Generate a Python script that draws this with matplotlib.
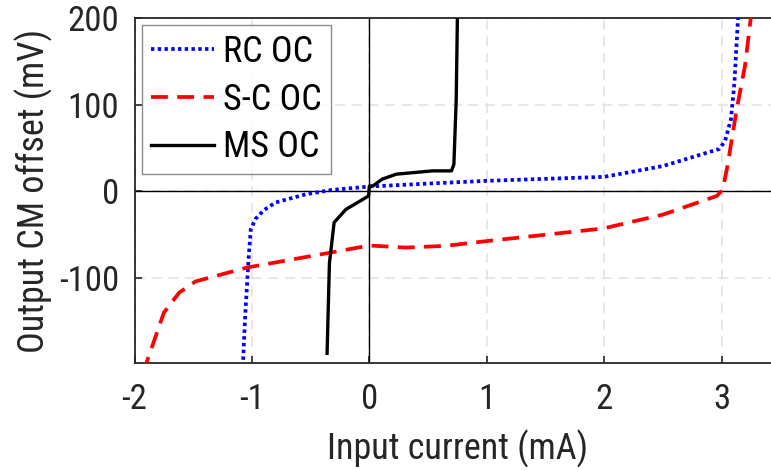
import matplotlib
matplotlib.use("Agg")
import matplotlib.pyplot as plt

FONTS = ['Roboto Condensed', 'Archivo Narrow', 'Liberation Sans', 'DejaVu Sans']
plt.rcParams['font.family'] = FONTS

rc_x = [-1.08, -1.06, -1.03, -1.01, -0.97, -0.90, -0.80, -0.54, -0.32, 0.0, 0.51, 1.0, 2.0, 2.5, 2.98, 3.03, 3.08, 3.11, 3.14, 3.16]
rc_y = [-210, -150, -80, -44, -32, -22, -13, -3.5, 1.5, 5.4, 8.9, 12, 16.6, 29, 48.7, 58, 83, 126, 199, 215]

sc_x = [-1.92, -1.90, -1.75, -1.62, -1.48, -1.04, -0.34, 0.0, 0.31, 0.65, 1.0, 1.99, 2.5, 2.96, 3.01, 3.05, 3.13, 3.20, 3.25, 3.26]
sc_y = [-210, -198.5, -140, -117, -104, -88, -71, -62.6, -65, -63, -57.5, -43, -27, -5.4, 2, 29, 95, 145, 201, 215]

ms_x = [-0.36, -0.34, -0.30, -0.20, -0.10, -0.006, 0.0, 0.03, 0.11, 0.23, 0.54, 0.70, 0.72, 0.74, 0.75, 0.751]
ms_y = [-187, -83, -36, -21, -13, -5.4, 6, 6, 14, 19.7, 23.5, 23.5, 31, 106, 201, 215]

xticks = [-2, -1, 0, 1, 2, 3]
yticks = [-100, 0, 100, 200]

fig = plt.figure(figsize=(7.71, 4.70), dpi=100)
ax = fig.add_axes([0.1745, 0.227, 0.8375, 0.735])

ax.grid(True, color='#e3e3e3', linestyle=(0, (6, 4)), linewidth=1.2, zorder=1)
ax.set_axisbelow(True)
ax.axhline(0, color='black', linewidth=1.0, zorder=2)
ax.axvline(0, color='black', linewidth=1.0, zorder=2)

ax.plot(rc_x, rc_y, color='blue', linestyle=(0, (0.9, 0.9)), linewidth=2.7, label='RC OC', zorder=3)
ax.plot(sc_x, sc_y, color='red', linestyle=(0, (4.5, 2.5)), linewidth=2.7, label='S-C OC', zorder=3)
ax.plot(ms_x, ms_y, color='black', linestyle='-', linewidth=2.4, label='MS OC', zorder=3)

ax.set_xlim(-2, 3.5)
ax.set_ylim(-198.5, 200)
ax.set_xticks(xticks)
ax.set_yticks(yticks)
ax.set_xticklabels([str(t) for t in xticks])
ax.set_yticklabels([str(t) for t in yticks])
ax.tick_params(direction='in', length=5, width=1.2, labelsize=25, colors='#262626')
ax.tick_params(axis='x', pad=14)
ax.tick_params(axis='y', pad=11)
for s in ax.spines.values():
    s.set_color('#262626')
    s.set_linewidth(1.3)

ax.set_xlabel('Input current (mA)', fontsize=26, color='#262626', labelpad=10)
ax.set_ylabel('Output CM offset (mV)', fontsize=26, color='#262626', labelpad=4)

leg = ax.legend(loc='upper left', fontsize=26, handlelength=1.75, frameon=True, fancybox=False,
                edgecolor='#707070', borderaxespad=0.2, labelspacing=0.32, handletextpad=0.25,
                borderpad=0.25, handleheight=0.7)
leg.get_frame().set_linewidth(1.0)

fig.savefig('out.png', dpi=100)
